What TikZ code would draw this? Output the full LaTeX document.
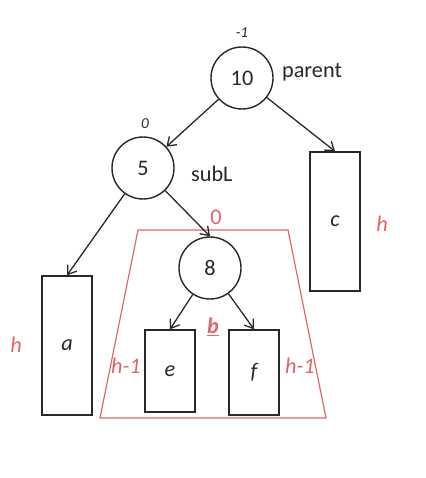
\documentclass[tikz,border=0pt]{standalone}
\usepackage{fontspec}
\setmainfont{Carlito}
\usepackage{tikz}
\usetikzlibrary{arrows.meta}
\definecolor{hred}{RGB}{224,102,102}
\definecolor{ink}{RGB}{40,40,40}

\begin{document}
\begin{tikzpicture}[
    x=0.03cm, y=-0.03cm,
    font=\fontsize{19}{21}\selectfont,
    key/.style={circle, draw=ink, line width=1.2pt, minimum size=1.86cm, inner sep=0pt, text=ink},
    subtree/.style={rectangle, draw=ink, line width=1.2pt, minimum width=1.5cm, inner sep=0pt, text=ink, font=\fontsize{19}{21}\selectfont\itshape},
    link/.style={-{Straight Barb[length=2.4mm,width=3.4mm]}, line width=1.1pt, draw=ink},
    bal/.style={text=ink, font=\fontsize{13}{15}\selectfont\itshape},
    ht/.style={text=hred, font=\fontsize{19}{21}\selectfont\itshape}
]
\useasboundingbox (0,0) rectangle (426,478);

% nodes
\node[key] (Parent) at (242,78) {10};
\node[key] (SubL) at (143,168) {5};
\node[key] (Mid) at (210,268) {8};
\node[subtree, minimum height=4.17cm] (C) at (335,221.5) {c};
\node[subtree, minimum height=4.17cm] (A) at (67,345.5) {a};
\node[subtree, minimum height=2.46cm] (E) at (170,371) {e};
\node[subtree, minimum height=2.55cm] (F) at (254,372.5) {f};

% subtree b
\draw[hred, line width=1pt] (138,230) -- (288,230) -- (326,418) -- (100,418) -- cycle;

% labels
\node[bal] (bParent) at (242,33) {-1};
\node[bal] (bSubL) at (145,124) {0};
\node[text=ink, anchor=west] (lParent) at (278,72) {parent};
\node[text=ink, anchor=west] (lSubL) at (187,174) {subL};
\node[text=hred, font=\fontsize{19}{21}\selectfont] (bMid) at (216,217) {0};
\node[ht] (hC) at (382,224) {h};
\node[ht] (hA) at (16,345) {h};
\node[ht] (hE) at (126,366) {h-1};
\node[ht] (hF) at (300,366) {h-1};
\node[text=hred, font=\fontsize{19}{21}\selectfont\bfseries\itshape] (lB) at (213,327) {\underline{b}};

% edges
\draw[link] (Parent) -- (SubL);
\draw[link] (Parent) -- (C.north);
\draw[link] (SubL) -- (A.north);
\draw[link] (SubL) -- (Mid.north);
\draw[link] (Mid) -- (E.north);
\draw[link] (Mid) -- (F.north);
\end{tikzpicture}
\end{document}
